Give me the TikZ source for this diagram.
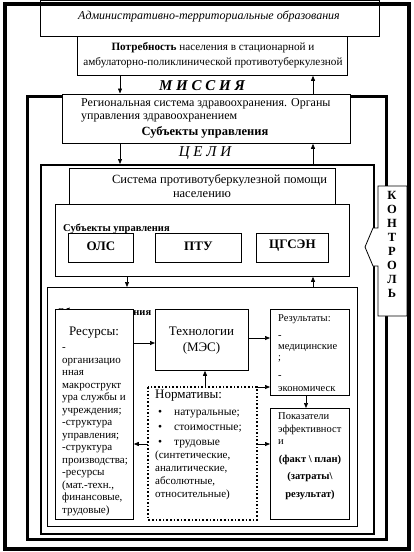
\documentclass[tikz,border=0pt]{standalone}
\usepackage{fontspec}
\setmainfont{Liberation Serif}
\usetikzlibrary{arrows.meta, positioning, calc}
\newcommand{\razm}[2]{\fontsize{#1}{#2}\selectfont}

\begin{document}
\begin{tikzpicture}[x=1pt, y=-1pt, font=\razm{11.2}{14.5},
	box/.style={draw, fill=white, line width=0.8pt, anchor=north west, inner sep=0pt},
	ramka/.style={draw, anchor=north west, inner sep=0pt},
	arr/.style={-{Triangle[length=5pt, width=4pt]}, line width=0.7pt},
	zag/.style={font=\razm{15}{17}\itshape},
	txt/.style={anchor=north west, align=left, inner sep=0pt}]
	\useasboundingbox (0,0) rectangle (413,552);
	% frames
	\node[box, minimum width=339, minimum height=36] (adm) at (40,0) {};
	\node[ramka, line width=2.6pt, minimum width=359, minimum height=443] (missiya) at (26,95) {};
	\node[ramka, line width=1.8pt, minimum width=333, minimum height=369] (tseli) at (40,164) {};
	\node[font=\razm{12}{14}\itshape] (admtxt) at (209,16) {Административно-территориальные образования};
	% mission level
	\node[box, minimum width=270, minimum height=39] (potr) at (77,36) {};
	\node[align=center] (potrtxt) at (213,55) {\textbf{Потребность} населения в стационарной и\\амбулаторно-поликлинической противотуберкулезной};
	\node[zag, font=\razm{15}{17}\bfseries\itshape] (mistxt) at (202,86) {М И С С И Я};
	\node[box, minimum width=288, minimum height=49.5] (reg) at (62,93.5) {};
	\node[txt, font=\razm{12}{13}] (regtxt) at (81,98) {Региональная система здравоохранения. Органы\\управления здравоохранением};
	\node[font=\razm{12.5}{14}\bfseries] (regsub) at (205,132) {Субъекты управления};
	\node[zag] (tsltxt) at (205,153) {Ц Е Л И};
	% system
	\node[box, minimum width=266, minimum height=36] (sys) at (69,168) {};
	\node[align=center, font=\razm{12.5}{14.5}] (systxt) at (202,186) {\hspace*{35pt}Система противотуберкулезной помощи\\населению};
	\node[box, minimum width=294, minimum height=72] (subj) at (55,204) {};
	\node[anchor=west, inner sep=0pt, font=\razm{10.5}{12}\bfseries] (subjtxt) at (63,229) {Субъекты управления};
	\foreach \nm/\xa/\w/\t in {ols/68/65/ОЛС, ptu/155/86/ПТУ, cgs/256/72/ЦГСЭН}{
		\node[box, minimum width=\w, minimum height=29] (\nm) at (\xa,233) {};
		\node[font=\razm{13}{15}\bfseries] at ($(\nm.center)+(0,-2)$) {\t};
	}
	% object
	\node[box, minimum width=310, minimum height=239] (obj) at (47,287) {};
	\node[anchor=west, inner sep=0pt, font=\razm{10.5}{12}\bfseries] (objtxt) at (57,313) {Объект управления};
	\node[box, minimum width=78, minimum height=210] (res) at (55,309) {};
	\node[font=\razm{13}{15}] (restit) at (94,333) {Ресурсы:};
	\node[txt, font=\razm{11}{12.5}] (reslist) at (62,342) {-\strut\\организацио\\нная\\макрострукт\\ура службы и\\учреждения;\\-структура\\управления;\\-структура\\производства;\\-ресурсы\\(мат.-техн.,\\финансовые,\\трудовые)};
	\node[box, minimum width=93, minimum height=61] (tech) at (155,309) {};
	\node[align=center, font=\razm{13}{16}] (techtxt) at (201.5,341) {Технологии\\(МЭС)};
	\node[box, minimum width=79, minimum height=86] (rez) at (270,309) {};
	\begin{scope}
		\clip (rez.north west) rectangle (rez.south east);
		\node[txt, font=\razm{10.5}{11}] (reztxt) at (278,314) {Результаты:\strut\\[6pt]-\\медицинские\\;\\[7pt]-\\[2pt]экономическ};
	\end{scope}
	\node[box, minimum width=79, minimum height=111] (pok) at (270,408) {};
	\node[txt, font=\razm{10.5}{12.5}] (poktxt) at (278,411) {Показатели\strut\\эффективност\\и};
	\node[align=center, font=\razm{10.5}{17.5}\bfseries] (pokfakt) at (310,477) {(факт \textbackslash{} план)\\(затраты\textbackslash\\результат)};
	\node[box, draw=none, minimum width=108, minimum height=132] (norm) at (148,387) {};
	\draw[line width=1.6pt, dotted] (norm.north west) rectangle (norm.south east);
	\node[txt, font=\razm{13}{15}] (normtit) at (155,390) {Нормативы:};
	\node[txt, font=\razm{11.5}{15}] (normspis) at (155,405) {\makebox[19pt][l]{\hspace{3pt}\textbullet}натуральные;\strut\\\makebox[19pt][l]{\hspace{3pt}\textbullet}стоимостные;\\\makebox[19pt][l]{\hspace{3pt}\textbullet}трудовые};
	\node[txt, font=\razm{11}{13}] (normskob) at (155,449) {(синтетические,\strut\\аналитические,\\абсолютные,\\относительные)};
	% control
	\draw[fill=white, line width=0.8pt] (378,186) -- (407,186) -- (407,316) -- (378,316) -- (378,266)
		-- (373,266) -- (365,247) -- (373,228) -- (378,228) -- cycle;
	\node[align=center, font=\razm{12.5}{14}\bfseries] (kontrol) at (392,244) {К\\О\\Н\\Т\\Р\\О\\Л\\Ь};
	\node[ramka, line width=3.5pt, minimum width=404, minimum height=545] (vnesh) at (3,2) {};
	% arrows
	\coordinate (xl) at (120,0);
	\coordinate (xr) at (313,0);
	\coordinate (xs) at (127,0);
	\coordinate (xn) at (205,0);
	\coordinate (xp) at (306,0);
	\coordinate (y1) at (0,343);
	\coordinate (y2) at (0,338);
	\coordinate (y3) at (0,444);
	\draw[arr] (potr.south -| xl) -- (reg.north -| xl);
	\draw[arr] (reg.north -| xr) -- (potr.south -| xr);
	\draw[arr] (reg.south -| xl) -- (tseli.north -| xl);
	\draw[arr] (tseli.north -| xr) -- (reg.south -| xr);
	\draw[arr] (subj.south -| xs) -- (obj.north -| xs);
	\draw[arr] (obj.north -| xr) -- (subj.south -| xr);
	\draw[arr] (res.east |- y1) -- (tech.west |- y1);
	\draw[arr] (tech.east |- y2) -- (rez.west |- y2);
	\draw[arr] (norm.north -| xn) -- (tech.south -| xn);
	\draw[arr] (norm.west |- y3) -- (res.east |- y3);
	\draw[arr] (norm.north east) -- (rez.west |- norm.north east);
	\draw[arr] (norm.east |- y3) -- (pok.west |- y3);
	\draw[arr] (rez.south -| xp) -- (pok.north -| xp);
\end{tikzpicture}
\end{document}
